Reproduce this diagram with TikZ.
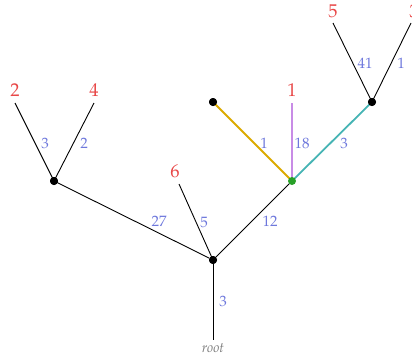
\documentclass[tikz,border=0pt]{standalone}
\usepackage[T1]{fontenc}
\renewcommand{\rmdefault}{ppl}
\begin{document}
\begin{tikzpicture}[x=1pt,y=-1pt,
  dot/.style={circle,fill=black,inner sep=0pt,minimum size=8pt},
  leaf/.style={text=leafred,font=\fontsize{18.5}{18.5}\selectfont,anchor=south,inner sep=0pt},
  wt/.style={text=wtblue,font=\fontsize{15}{15}\selectfont,inner sep=0pt},
  edge/.style={line width=0.9pt},
  cedge/.style={line width=1.8pt}]
\definecolor{leafred}{RGB}{232,72,72}
\definecolor{wtblue}{RGB}{110,120,220}
\definecolor{cyel}{RGB}{220,170,0}
\definecolor{cpur}{RGB}{200,140,230}
\definecolor{cteal}{RGB}{70,180,180}
\definecolor{cgreen}{RGB}{40,160,40}
\useasboundingbox (0,0) rectangle (412,362);
% coordinates
\coordinate (rt) at (213,340);
\node[dot] (A) at (213,260) {};
\node[dot] (B) at (54,181) {};
\node[dot] (D) at (213,102) {};
\node[dot] (E) at (372,102) {};
\coordinate (c2) at (15,103);
\coordinate (c4) at (94,103);
\coordinate (c6) at (179,184);
\coordinate (c1) at (292,103);
\coordinate (c5) at (333,23);
\coordinate (c3) at (411,23);
\node[leaf] (l2) at (15,97) {2};
\node[leaf] (l4) at (94,97) {4};
\node[leaf] (l6) at (175,178) {6};
\node[leaf] (l1) at (292,97) {1};
\node[leaf] (l5) at (333,18) {5};
\node[leaf] (l3) at (414,18) {3};
\node[text=gray,font=\fontsize{14}{14}\selectfont\itshape,anchor=north,inner sep=0pt] (root) at (213,343) {root};
% edges
\draw[edge] (A) -- (rt);
\draw[edge] (A) -- (B.center);
\draw[edge] (A.center) -- (c6);
\draw[edge] (B.center) -- (c2);
\draw[edge] (B.center) -- (c4);
\draw[edge] (E.center) -- (c5);
\draw[edge] (E.center) -- (c3);
\coordinate (Gc) at (292,181);
\draw[edge] (A.center) -- (Gc);
\draw[cedge,cyel] (Gc) -- (D.center);
\draw[cedge,cpur] (Gc) -- (c1);
\draw[cedge,cteal] (Gc) -- (E.center);
\node[dot] at (A) {};
\node[dot] at (B) {};
\node[dot] at (D) {};
\node[dot] at (E) {};
\node[dot,fill=cgreen] (G) at (Gc) {};
% weights
\node[wt] (w23) at (45,143) {3};
\node[wt] (w4) at (84,143) {2};
\node[wt] (w27) at (159,221) {27};
\node[wt] (w5) at (204,222) {5};
\node[wt] (w12) at (270,221) {12};
\node[wt] (wr) at (223,301) {3};
\node[wt] (wy) at (264,143) {1};
\node[wt] (wp) at (302,143) {18};
\node[wt] (wt3) at (344,143) {3};
\node[wt] (w41) at (365,63) {41};
\node[wt] (w1) at (401,63) {1};
\end{tikzpicture}
\end{document}
